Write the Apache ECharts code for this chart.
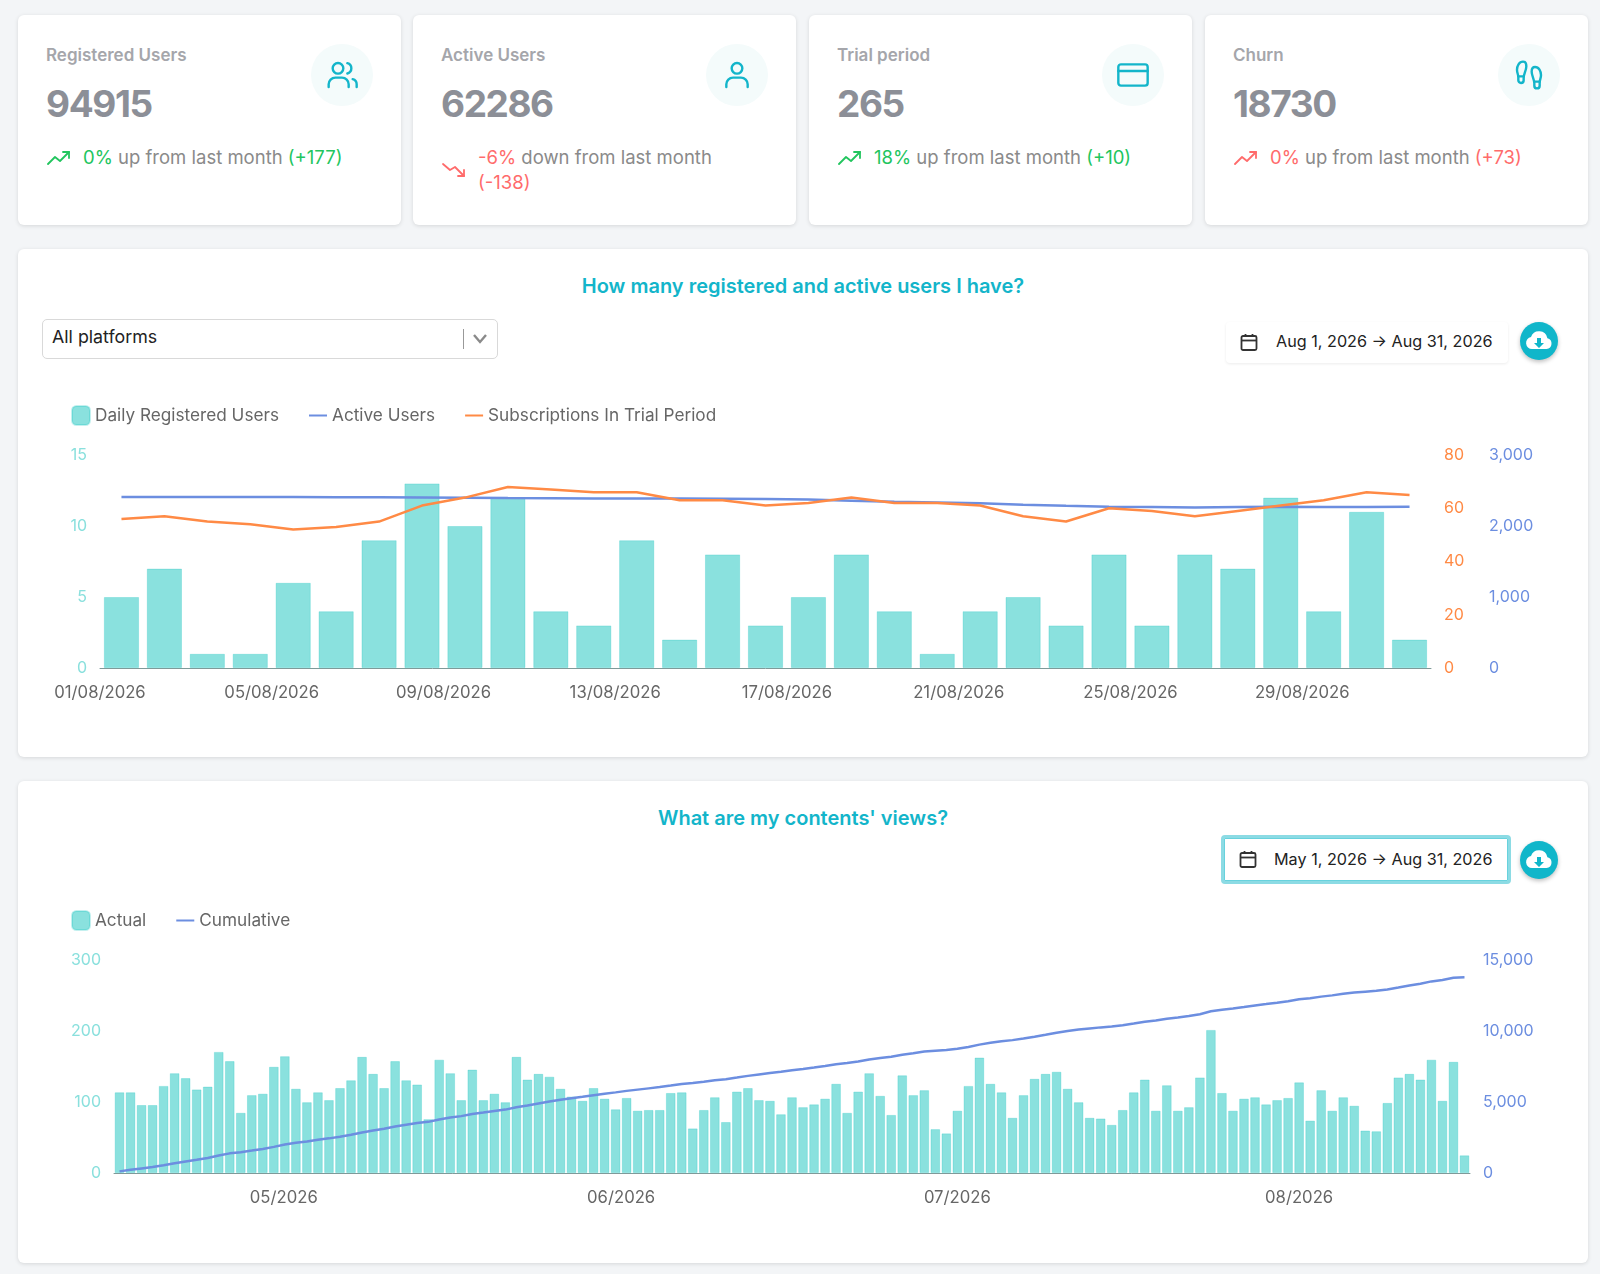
<!DOCTYPE html>
<html>
<head>
<meta charset="utf-8" />
<title>Users dashboard</title>
<script src="https://cdn.jsdelivr.net/npm/echarts@6/dist/echarts.min.js"></script>
<style>
  html, body { margin: 0; padding: 0; background: #f3f5f7; }
  body { width: 1600px; height: 1274px; position: relative; overflow: hidden; font-family: Inter, "Noto Sans", sans-serif; }
  .card { position: absolute; background: #fff; border-radius: 6px; box-shadow: 0 1px 4px rgba(0,0,0,.12); }
  .stat { top: 15px; width: 383px; height: 210px; }
  .stat .label { position: absolute; left: 28px; top: 30px; font-size: 17px; line-height: 20px; font-weight: 600; color: #a5a6ab; }
  .stat .value { position: absolute; left: 28px; top: 66px; font-size: 37px; line-height: 46px; font-weight: 700; color: #8c8f97; letter-spacing: -1.4px; }
  .stat .bubble { position: absolute; left: 293px; top: 29px; width: 62px; height: 62px; border-radius: 50%; background: #f4fbfb; }
  .stat .bubble svg { position: absolute; left: 15px; top: 15px; width: 32px; height: 32px; fill: none; stroke: #13b5ca; stroke-width: 1.8; stroke-linecap: round; stroke-linejoin: round; }
  .stat .delta { position: absolute; left: 29px; top: 130px; width: 310px; display: flex; align-items: center; font-size: 18.5px; line-height: 25px; color: #8a8a8a; }
  .stat .delta svg { flex: none; width: 24px; height: 20px; margin-right: 12px; fill: none; stroke-width: 1.8; stroke-linecap: round; stroke-linejoin: round; }
  .up { color: #22c55e; stroke: #22c55e; }
  .bad { color: #ff6b6b; stroke: #ff6b6b; }
  .title { position: absolute; left: 18px; width: 1570px; text-align: center; font-size: 20px; line-height: 26px; font-weight: 600; color: #13b5ca; }
  .select { position: absolute; left: 42px; top: 319px; width: 454px; height: 38px; border: 1px solid #d9d9d9; border-radius: 5px; background: #fff; }
  .select span { position: absolute; left: 9px; top: 5px; font-size: 17.8px; line-height: 24px; color: #222; }
  .select i { position: absolute; left: 420px; top: 9px; width: 1px; height: 20px; background: #999; }
  .select svg { position: absolute; left: 429px; top: 12px; width: 16px; height: 14px; fill: none; stroke: #8a8a8a; stroke-width: 2.4; }
  .range { position: absolute; background: #fff; box-sizing: border-box; border-radius: 4px; }
  .range svg { position: absolute; width: 18px; height: 18px; fill: none; stroke: #333; stroke-width: 1.8; }
  .range span { position: absolute; font-size: 16.2px; line-height: 24px; color: #222; white-space: nowrap; }
  .dl { position: absolute; left: 1520px; width: 38px; height: 38px; border-radius: 50%; background: #10b6ca; box-shadow: 0 2px 4px rgba(0,0,0,.25); }
  .dl svg { position: absolute; left: 4px; top: 4px; width: 30px; height: 30px; }
  .plot { position: absolute; left: 18px; width: 1570px; }
</style>
</head>
<body>

<div class="card stat" style="left:18px">
  <div class="label">Registered Users</div>
  <div class="value">94915</div>
  <div class="bubble"><svg viewBox="0 0 24 24"><path d="M17 21v-2a5 5 0 0 0-5-5H7a5 5 0 0 0-5 5v2"/><circle cx="9" cy="7" r="4"/><path d="M23 21v-2a4 4 0 0 0-3-3.87"/><path d="M16 3.13a4 4 0 0 1 0 7.75"/></svg></div>
  <div class="delta"><svg class="up" viewBox="0 0 24 20"><polyline points="1 16 8 9 13 13 22 4"/><polyline points="16 4 22 4 22 10"/></svg><span><span class="up">0%</span> up from last month <span class="up">(+177)</span></span></div>
</div>
<div class="card stat" style="left:413px">
  <div class="label">Active Users</div>
  <div class="value">62286</div>
  <div class="bubble"><svg viewBox="0 0 24 24"><path d="M20 21v-2a5 5 0 0 0-5-5H9a5 5 0 0 0-5 5v2"/><circle cx="12" cy="7" r="4"/></svg></div>
  <div class="delta"><svg class="bad" viewBox="0 0 24 20"><polyline points="1 4 8 10 13 7 22 16"/><polyline points="16 16 22 16 22 10"/></svg><span><span class="bad">-6%</span> down from last month <span class="bad">(-138)</span></span></div>
</div>
<div class="card stat" style="left:809px">
  <div class="label">Trial period</div>
  <div class="value">265</div>
  <div class="bubble"><svg viewBox="0 0 24 24"><rect x="1" y="4" width="22" height="16" rx="2"/><line x1="1" y1="9" x2="23" y2="9"/></svg></div>
  <div class="delta"><svg class="up" viewBox="0 0 24 20"><polyline points="1 16 8 9 13 13 22 4"/><polyline points="16 4 22 4 22 10"/></svg><span><span class="up">18%</span> up from last month <span class="up">(+10)</span></span></div>
</div>
<div class="card stat" style="left:1205px">
  <div class="label">Churn</div>
  <div class="value">18730</div>
  <div class="bubble"><svg viewBox="0 0 24 24"><path d="M4 16v-2.38C4 11.5 2.97 10.5 3 8c.03-2.72 1.49-6 4.5-6C9.37 2 10 3.8 10 5.5c0 3.11-2 5.66-2 8.68V16a2 2 0 1 1-4 0Z"/><path d="M20 20v-2.38c0-2.12 1.03-3.12 1-5.62-.03-2.72-1.49-6-4.5-6C14.63 6 14 7.8 14 9.5c0 3.11 2 5.66 2 8.68V20a2 2 0 1 0 4 0Z"/><path d="M16 17h4"/><path d="M4 13h4"/></svg></div>
  <div class="delta"><svg class="bad" viewBox="0 0 24 20"><polyline points="1 16 8 9 13 13 22 4"/><polyline points="16 4 22 4 22 10"/></svg><span><span class="bad">0%</span> up from last month <span class="bad">(+73)</span></span></div>
</div>

<div class="card" style="left:18px;top:249px;width:1570px;height:508px"></div>
<div class="title" style="top:273px">How many registered and active users I have?</div>
<div class="select"><span>All platforms</span><i></i><svg viewBox="0 0 16 14"><polyline points="2 3 8 10 14 3"/></svg></div>
<div class="range" style="left:1226px;top:322px;width:282px;height:41px;box-shadow:0 1px 3px rgba(0,0,0,.08)">
  <svg style="left:14px;top:11px" viewBox="0 0 18 18"><rect x="1.5" y="3" width="15" height="14" rx="1.5"/><line x1="1.5" y1="7.5" x2="16.5" y2="7.5"/><line x1="5.5" y1="1" x2="5.5" y2="4"/><line x1="12.5" y1="1" x2="12.5" y2="4"/></svg>
  <span style="left:50px;top:7px">Aug 1, 2026 → Aug 31, 2026</span>
</div>
<div class="dl" style="top:322px"><svg viewBox="0 0 30 30"><path fill="#fff" d="M8 23a6 6 0 0 1-1-11.9 8.5 8.5 0 0 1 16.4 1.1A5.5 5.5 0 0 1 22.5 23Z"/><path fill="#10b6ca" d="M13 12h4v5h3l-5 5-5-5h3Z"/></svg></div>
<div id="chartUsers" class="plot" style="top:395px;height:350px"></div>

<div class="card" style="left:18px;top:781px;width:1570px;height:482px"></div>
<div class="title" style="top:805px">What are my contents' views?</div>
<div class="range" style="left:1221px;top:835px;width:290px;height:49px;border:3px solid #8cdbe4;box-shadow:inset 0 0 0 1px #68d2dd">
  <svg style="left:15px;top:12px" viewBox="0 0 18 18"><rect x="1.5" y="3" width="15" height="14" rx="1.5"/><line x1="1.5" y1="7.5" x2="16.5" y2="7.5"/><line x1="5.5" y1="1" x2="5.5" y2="4"/><line x1="12.5" y1="1" x2="12.5" y2="4"/></svg>
  <span style="left:50px;top:9px">May 1, 2026 → Aug 31, 2026</span>
</div>
<div class="dl" style="top:841px"><svg viewBox="0 0 30 30"><path fill="#fff" d="M8 23a6 6 0 0 1-1-11.9 8.5 8.5 0 0 1 16.4 1.1A5.5 5.5 0 0 1 22.5 23Z"/><path fill="#10b6ca" d="M13 12h4v5h3l-5 5-5-5h3Z"/></svg></div>
<div id="chartViews" class="plot" style="top:905px;height:340px"></div>

<script type="text/javascript">
  // chart 1, August
  var days = ["01/08/2026","02/08/2026","03/08/2026","04/08/2026","05/08/2026","06/08/2026","07/08/2026","08/08/2026","09/08/2026","10/08/2026","11/08/2026","12/08/2026","13/08/2026","14/08/2026","15/08/2026","16/08/2026","17/08/2026","18/08/2026","19/08/2026","20/08/2026","21/08/2026","22/08/2026","23/08/2026","24/08/2026","25/08/2026","26/08/2026","27/08/2026","28/08/2026","29/08/2026","30/08/2026","31/08/2026"];
  var dailyRegistered = [5,7,1,1,6,4,9,13,10,12,4,3,9,2,8,3,5,8,4,1,4,5,3,8,3,8,7,12,4,11,2];
  var activeUsers = [2408,2408,2408,2410,2410,2406,2404,2402,2398,2394,2392,2388,2387,2386,2385,2380,2372,2357,2340,2330,2320,2300,2285,2272,2268,2262,2268,2272,2268,2266,2272];
  var trialSubs = [56,57,55,54,52,53,55,61,64,68,67,66,66,63,63,61,62,64,62,62,61,57,55,60,59,57,59,61,63,66,65];

  // chart 2, May to August, one bar a day
  var viewDays = [];
  var viewsActual = [114,114,96,96,123,141,134,118,122,171,158,85,110,112,150,165,119,100,114,103,120,131,164,140,120,158,131,125,76,160,141,103,146,103,112,100,164,132,140,136,119,108,102,120,105,90,106,88,89,89,113,114,63,89,107,72,115,120,103,102,83,107,93,97,105,126,85,115,141,109,82,138,110,117,62,56,88,123,163,126,114,78,110,133,140,143,119,100,78,77,68,89,114,132,88,124,88,93,135,202,113,88,105,107,97,103,106,128,74,117,88,107,95,60,59,99,135,140,132,160,102,157,25];
  var viewsCumulative = [114,228,324,420,543,684,818,936,1058,1229,1387,1472,1582,1694,1844,2009,2128,2228,2342,2445,2565,2696,2860,3000,3120,3278,3409,3534,3610,3770,3911,4014,4160,4263,4375,4475,4639,4771,4911,5047,5166,5274,5376,5496,5601,5691,5797,5885,5974,6063,6176,6290,6353,6442,6549,6621,6736,6856,6959,7061,7144,7251,7344,7441,7546,7672,7757,7872,8013,8122,8204,8342,8452,8569,8631,8687,8775,8898,9061,9187,9301,9379,9489,9622,9762,9905,10024,10124,10202,10279,10347,10436,10550,10682,10770,10894,10982,11075,11210,11412,11525,11613,11718,11825,11922,12025,12131,12259,12333,12450,12538,12645,12740,12800,12859,12958,13093,13233,13365,13525,13627,13784,13809];
  var monthTicks = [15.4, 46, 76.5, 107.5];
  var monthLabels = ["05/2026","06/2026","07/2026","08/2026"];
  for (var i = 0; i < viewsActual.length; i++) { viewDays.push("d" + (i + 1)); }

  var TEAL = "#8ae0dd", BLUE = "#6c8ee0", ORANGE = "#ff8a45", FONT = "Inter";
  var LINE_ICON = "path://M0 0H18V2H0Z";
  var barStyle = { color: "rgba(21,195,190,.5)", borderColor: "rgba(21,195,190,.25)", borderWidth: 1 };

  function valueAxis(color, max, interval, position, offset, fmt) {
    return {
      type: "value", position: position, offset: offset, min: 0, max: max, interval: interval,
      axisLine: { show: false }, axisTick: { show: false }, splitLine: { show: false },
      axisLabel: { color: color, fontSize: 16, fontFamily: FONT, margin: 13, padding: [4, 0, 0, 0], formatter: fmt }
    };
  }
  function thousands(v) { return echarts.format.addCommas(v); }
  function bandAxis(data) {
    return {
      type: "category", data: data, position: "bottom",
      axisLine: { onZero: false, lineStyle: { color: "#7f9a99", width: 1 } },
      axisTick: { show: false }, axisLabel: { show: false }
    };
  }
  function labelAxis(max, label) {
    label.color = "#666"; label.fontSize = 16.7; label.fontFamily = FONT; label.margin = 16;
    return {
      type: "value", position: "bottom", min: 0, max: max, interval: label.step,
      axisLine: { show: false, onZero: false }, axisTick: { show: false }, splitLine: { show: false },
      axisLabel: label
    };
  }
  function legend(top, names) {
    return {
      left: 53, top: top, itemWidth: 18, itemHeight: 19, itemGap: 30, padding: 0,
      textStyle: { color: "#666", fontSize: 17.2, fontFamily: FONT },
      data: names
    };
  }

  var usersChart = echarts.init(document.getElementById("chartUsers"));
  usersChart.setOption({
    animation: false,
    legend: legend(10, [
      { name: "Daily Registered Users", icon: "roundRect" },
      { name: "Active Users", icon: LINE_ICON },
      { name: "Subscriptions In Trial Period", icon: LINE_ICON }
    ]),
    grid: { left: 82, top: 60, width: 1331, height: 213 },
    xAxis: [
      bandAxis(days),
      labelAxis(31, { step: 4, showMaxLabel: false, formatter: function (v) { return days[v]; } })
    ],
    yAxis: [
      valueAxis(TEAL, 15, 5, "left", 0),
      valueAxis(ORANGE, 80, 20, "right", 0),
      valueAxis(BLUE, 3000, 1000, "right", 45, thousands)
    ],
    series: [
      { name: "Daily Registered Users", type: "bar", data: dailyRegistered, barCategoryGap: "18%", itemStyle: barStyle },
      { name: "Active Users", type: "line", yAxisIndex: 2, data: activeUsers, symbol: "none", color: BLUE, lineStyle: { color: BLUE, width: 2.5 } },
      { name: "Subscriptions In Trial Period", type: "line", yAxisIndex: 1, data: trialSubs, symbol: "none", color: ORANGE, lineStyle: { color: ORANGE, width: 2.5 } }
    ]
  });

  var viewsChart = echarts.init(document.getElementById("chartViews"));
  viewsChart.setOption({
    animation: false,
    legend: legend(5, [
      { name: "Actual", icon: "roundRect" },
      { name: "Cumulative", icon: LINE_ICON }
    ]),
    grid: { left: 96, top: 55.5, width: 1356, height: 212.5 },
    xAxis: [
      bandAxis(viewDays),
      labelAxis(viewsActual.length, { customValues: monthTicks, formatter: function (v) { return monthLabels[monthTicks.indexOf(v)]; } })
    ],
    yAxis: [
      valueAxis(TEAL, 300, 100, "left", 0),
      valueAxis(BLUE, 15000, 5000, "right", 0, thousands)
    ],
    series: [
      { name: "Actual", type: "bar", data: viewsActual, barCategoryGap: "12%", itemStyle: barStyle },
      { name: "Cumulative", type: "line", yAxisIndex: 1, data: viewsCumulative, symbol: "none", color: BLUE, lineStyle: { color: BLUE, width: 2.5 } }
    ]
  });
</script>
</body>
</html>
